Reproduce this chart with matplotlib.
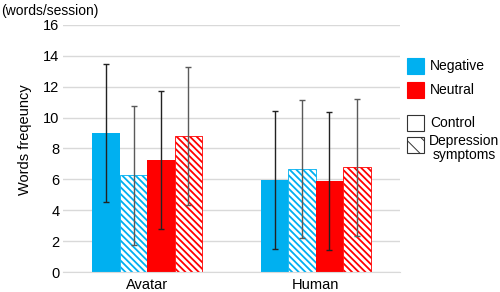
import matplotlib.pyplot as plt
import matplotlib.patches as patches
import numpy as np

# data
groups = ['Avatar', 'Human']
means = [
    [9.02, 5.96],   # negative, control
    [6.26, 6.65],   # negative, depression
    [7.27, 5.89],   # neutral, control
    [8.81, 6.78],   # neutral, depression
]
sds = [
    [4.47, 4.44],
    [4.50, 4.47],
    [4.48, 4.47],
    [4.47, 4.42],
]

blue = '#00B0F0'
red = '#FF0000'
colors = [blue, blue, red, red]
hatched = [False, True, False, True]

plt.rcParams['font.family'] = ['Liberation Sans', 'DejaVu Sans']

W, H = 500, 292
fig = plt.figure(figsize=(5, 2.92), dpi=100)
# plot area: x 63..400 px, y 25..272 px
ax = fig.add_axes([63 / W, 1 - 272 / H, (400 - 63) / W, (272 - 25) / H])

x = np.arange(len(groups))
w = 0.163
for i in range(4):
    pos = x + (i - 1.5) * w
    if hatched[i]:
        plt.rcParams['hatch.color'] = colors[i]
        plt.rcParams['hatch.linewidth'] = 1.3
        bars = ax.bar(pos, means[i], w, facecolor='white', edgecolor=colors[i],
                      hatch='\\' * 5, linewidth=0.6, zorder=2)
        for b in bars:
            if hasattr(b, 'set_hatch_linewidth'):
                b.set_hatch_linewidth(1.3)
        ecol = '#5a5a5a'
    else:
        ax.bar(pos, means[i], w, color=colors[i], zorder=2)
        ecol = '#222222'
    ax.errorbar(pos, means[i], yerr=sds[i], fmt='none', ecolor=ecol,
                elinewidth=1.0, capsize=2.5, capthick=1.0, zorder=3)

ax.set_xlim(-0.5, 1.5)
ax.set_ylim(0, 16)
ax.set_yticks(range(0, 17, 2))
ax.set_xticks(x)
ax.set_xticklabels(groups, fontsize=10.5)
ax.tick_params(axis='y', labelsize=10.5, length=0, pad=2.5)
ax.tick_params(axis='x', length=0, pad=4.5)
ax.grid(axis='y', color='#d9d9d9', linewidth=1, zorder=0)
ax.set_axisbelow(True)
for s in ['top', 'right', 'left']:
    ax.spines[s].set_visible(False)
ax.spines['bottom'].set_color('#d9d9d9')
ax.set_ylabel('Words freqeuncy', fontsize=10.5)
ax.yaxis.set_label_coords(-0.092, 0.536)
fig.text(1 / W, 1 - 11 / H, '(words/session)', fontsize=10, ha='left', va='center')

# legend drawn by hand to copy the uneven spacing of the original
plt.rcParams['hatch.color'] = 'black'
plt.rcParams['hatch.linewidth'] = 0.7
leg_boxes = [(58, blue, blue, None), (82, red, red, None),
             (115, 'white', '#333333', None), (137, 'white', '#333333', '\\\\')]
for top, fc, ec, hatch in leg_boxes:
    p = patches.Rectangle((407 / W, 1 - (top + 16) / H), 17 / W, 16 / H,
                          facecolor=fc, edgecolor=ec, hatch=hatch,
                          linewidth=0.8, transform=fig.transFigure)
    if hasattr(p, 'set_hatch_linewidth'):
        p.set_hatch_linewidth(0.7)
    fig.add_artist(p)
fig.text(430 / W, 1 - 66 / H, 'Negative', fontsize=10, ha='left', va='center')
fig.text(430 / W, 1 - 90 / H, 'Neutral', fontsize=10, ha='left', va='center')
fig.text(430 / W, 1 - 123 / H, 'Control', fontsize=10, ha='left', va='center')
fig.text(429 / W, 1 - 134 / H, 'Depression\nsymptoms', fontsize=10, ha='left', va='top',
         multialignment='center', linespacing=1.0)

fig.savefig('out.png', dpi=100)
